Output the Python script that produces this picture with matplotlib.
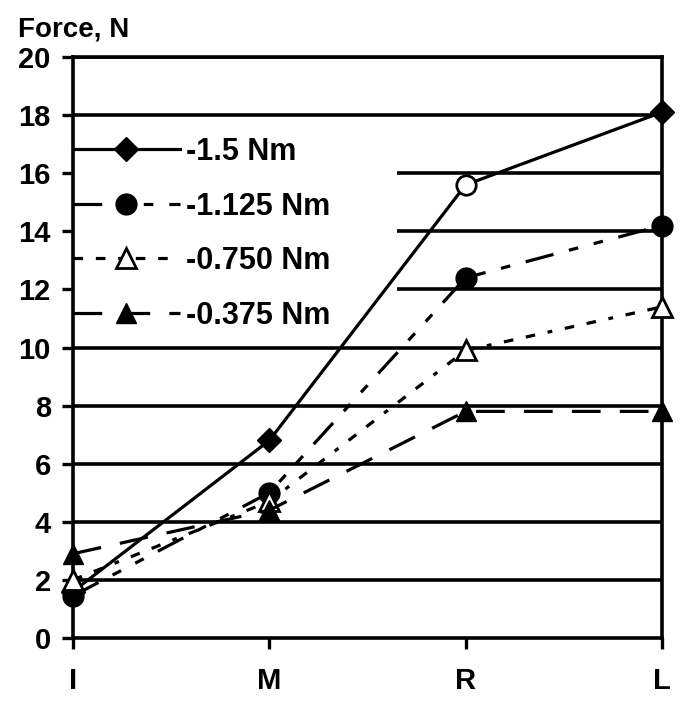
import matplotlib
matplotlib.use("Agg")
import matplotlib.pyplot as plt
from matplotlib.patches import Rectangle

categories = ["I", "M", "R", "L"]
labels = ["-1.5 Nm", "-1.125 Nm", "-0.750 Nm", "-0.375 Nm"]
s15 = [1.6, 6.8, 15.6, 18.1]
s1125 = [1.45, 5.0, 12.4, 14.2]
s075 = [2.0, 4.7, 9.9, 11.4]
s0375 = [2.9, 4.4, 7.8, 7.8]
yticks = [0, 2, 4, 6, 8, 10, 12, 14, 16, 18, 20]

plt.rcParams['font.family'] = ['Liberation Sans', 'DejaVu Sans']
plt.rcParams['font.weight'] = 'bold'

fig = plt.figure(figsize=(6.92, 7.11), dpi=100)
ax = fig.add_axes([0.1055, 0.1027, 0.8511, 0.8171])
x = list(range(len(categories)))

for yv in yticks[1:]:
    ax.axhline(yv, color='black', lw=2.6, zorder=1)

# white legend background hiding the gridlines
ax.add_patch(Rectangle((0.0, 0.53), 0.55, 0.362, transform=ax.transAxes,
                       facecolor='white', edgecolor='none', zorder=1.5))

lw = 2.3
ax.plot(x, s15, color='black', lw=lw, ls='-', marker='D', ms=12, markevery=[0, 1, 3],
        mfc='black', mec='black', label=labels[0], zorder=3, clip_on=False)
ax.plot([x[2]], [s15[2]], ls='none', marker='o', ms=14, mfc='white', mec='black', mew=2,
        zorder=4, clip_on=False)
ax.plot(x, s1125, color='black', lw=lw, ls=(0, (9, 5, 3, 5, 3, 5)), marker='o', ms=15,
        mfc='black', mec='black', label=labels[1], zorder=3, clip_on=False)
ax.plot(x, s075, color='black', lw=lw, ls=(0, (3, 4, 3, 4, 1.5, 4)), marker='^', ms=14,
        mfc='white', mec='black', mew=2, label=labels[2], zorder=3, clip_on=False)
ax.plot(x, s0375, color='black', lw=lw, ls=(0, (9, 6)), marker='^', ms=14,
        mfc='black', mec='black', label=labels[3], zorder=3, clip_on=False)

ax.set_xlim(0, 3)
ax.set_ylim(0, 20)
ax.set_xticks(x)
ax.set_xticklabels(categories)
ax.set_yticks(yticks)
ax.tick_params(axis='both', labelsize=21, width=2.4, length=8, direction='out', color='black')
ax.tick_params(axis='x', pad=13)
ax.tick_params(axis='y', pad=8)
for lab in ax.get_xticklabels() + ax.get_yticklabels():
    lab.set_fontweight('bold')

for side in ['left', 'right', 'top', 'bottom']:
    ax.spines[side].set_linewidth(2.6)
    ax.spines[side].set_color('black')
    ax.spines[side].set_zorder(2)

leg = ax.legend(loc='upper left', bbox_to_anchor=(0.0, 0.862), frameon=False,
                handlelength=3.5, handletextpad=0.2, labelspacing=0.8,
                borderpad=0.0, borderaxespad=0.0, prop={'weight': 'bold', 'size': 22})
leg.set_zorder(5)

fig.text(0.026, 0.958, "Force, N", fontsize=20, fontweight='bold', ha='left', va='center')

fig.savefig("out.png", dpi=100, facecolor='white')
